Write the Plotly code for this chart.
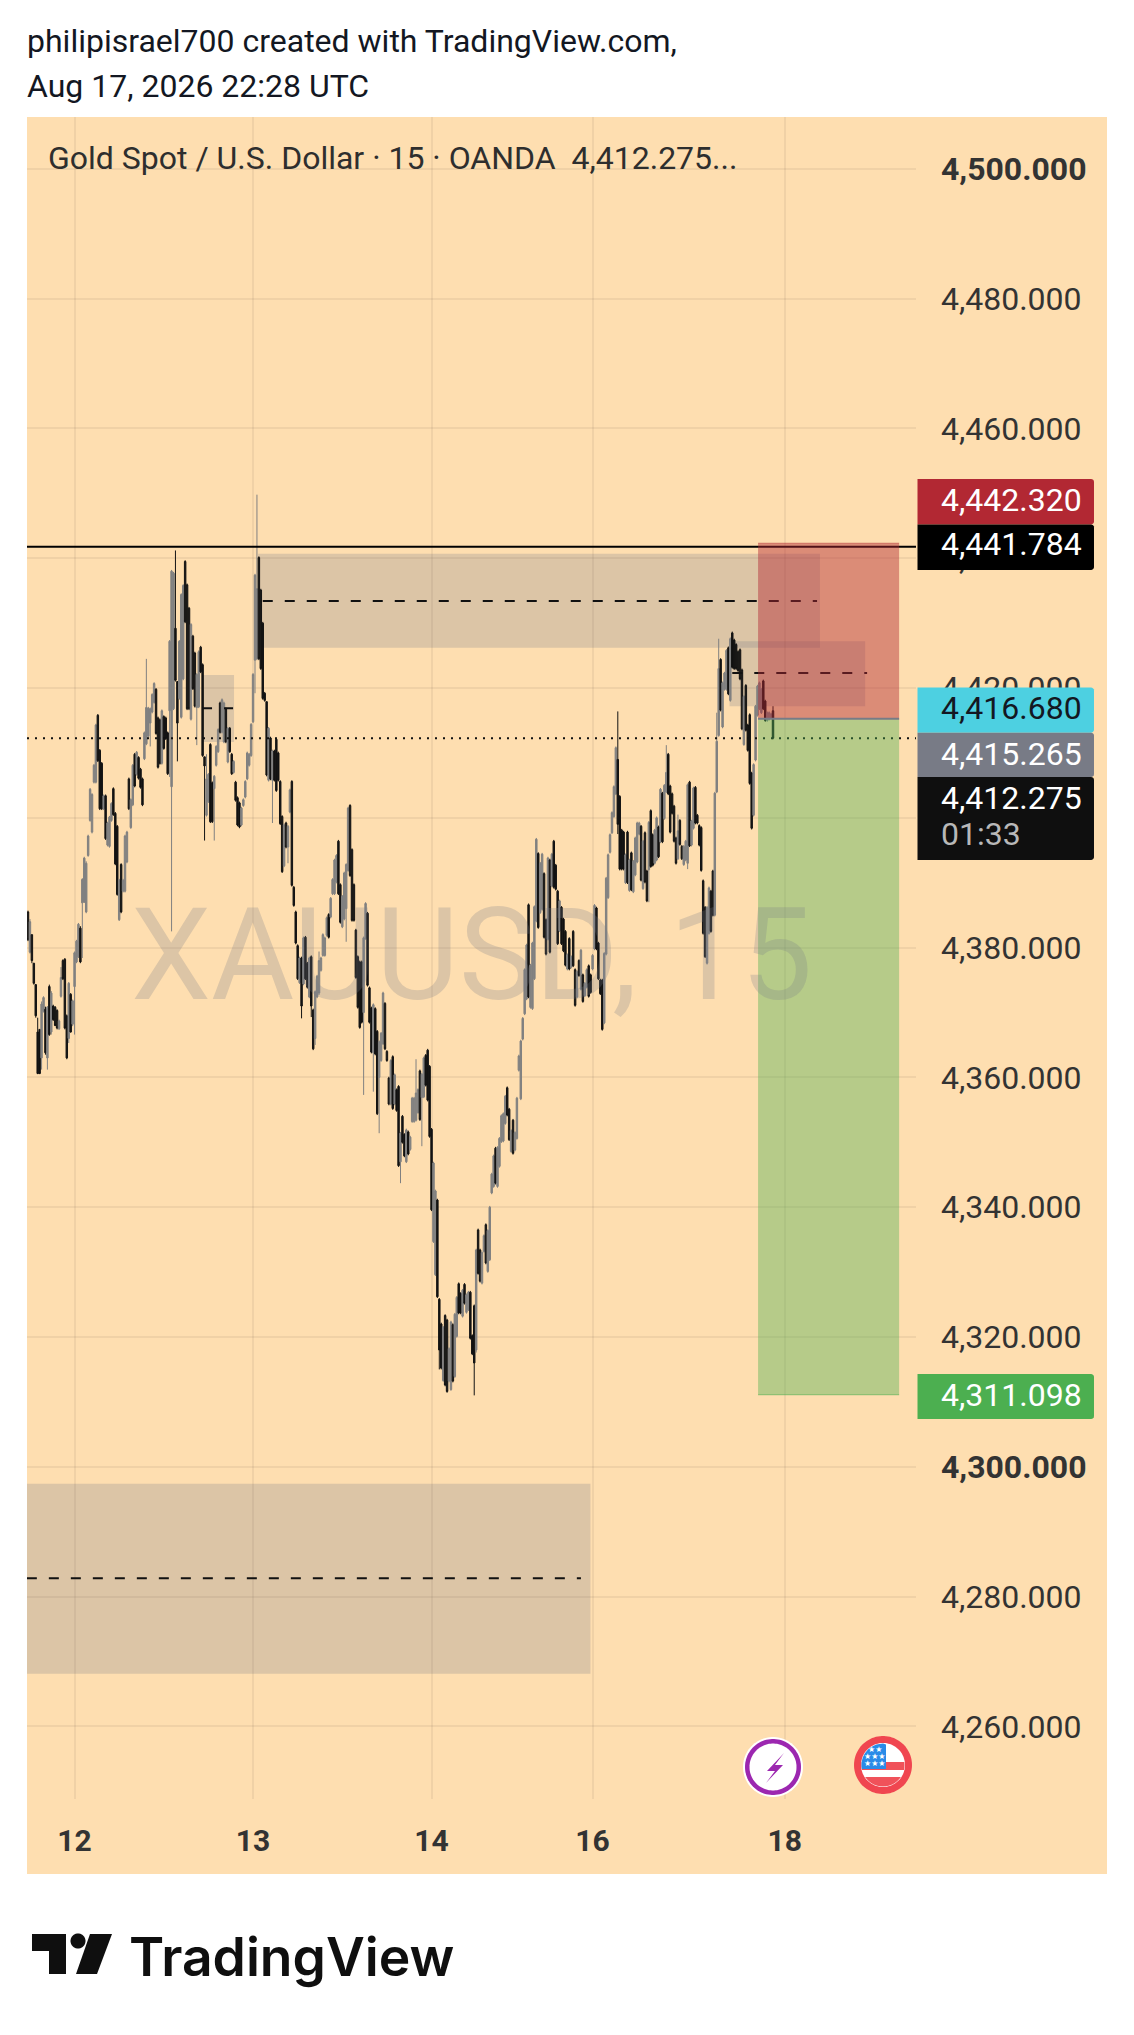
import math
import plotly.graph_objects as go

# ---- data ----
HIGH = [
4385.7,4384.4,4382,4377.6,4374.3,4369.2,4367.4,4371.7,4372.5,4370.9,
4371,4374.3,4373.3,4371.2,4371,4370.5,4368.9,4377,4378.2,4378.4,
4369.7,4374.7,4373,4372,4379.4,4381.2,4383.8,4383.3,4390.7,4394,
4393.3,4397.4,4404.6,4403.8,4408.3,4414.5,4416,4410.6,4408.6,4403.6,
4403.6,4399.4,4400.3,4402.4,4404.7,4400.9,4398.9,4390.6,4393,4390.6,
4397.4,4398,4406.2,4403,4408.3,4410,4410.3,4409.5,4407.7,4406.2,
4413.3,4424.5,4417.1,4417,4419.2,4420.9,4420,4415.6,4415.3,4416.7,
4415.8,4415.6,4413.3,4427.4,4438.2,4437.9,4441.2,4421,4427.4,4434.6,
4436,4439.7,4436.1,4432.5,4430,4428.2,4425.6,4422.3,4425.8,4426.5,
4423.8,4409.4,4409.8,4406.9,4411.5,4405.6,4406.6,4411.2,4413.8,4417.9,
4418.4,4417.9,4417,4414,4414,4410,4408.9,4405.7,4403.3,4402.5,
4401.7,4403,4405.8,4410.2,4410,4414.6,4422.3,4437.6,4449.8,4440.3,
4435.3,4430.2,4419.4,4417.9,4414,4412.5,4410.5,4410.5,4412.3,4410.2,
4405.8,4400.4,4399.1,4399.4,4398.9,4404.5,4405.8,4389.5,4385.7,4380.5,
4378.6,4378.6,4381.7,4381.8,4377.8,4378.6,4378.8,4370.6,4373.4,4375.8,
4379.4,4378.6,4382.2,4381.7,4384.8,4385.3,4387.8,4390.7,4393.7,4394.4,
4396.6,4389.9,4388.1,4391.7,4393,4401.7,4402.1,4395.3,4389.9,4382.9,
4378.8,4378,4378,4381.7,4387,4385.5,4374,4370.9,4371.4,4370.8,
4367.3,4365.7,4367,4373.2,4371.6,4364.2,4360.1,4362.8,4363.4,4360.6,
4358.3,4358.8,4351.6,4354.2,4351.4,4352.1,4351.8,4351,4357,4357,
4362.8,4358.3,4361.2,4360.7,4363.2,4363.6,4364.4,4361.9,4352.2,4347,
4342.7,4341.3,4326,4322.2,4321.7,4323.5,4322.8,4318.4,4322.5,4322.1,
4323.7,4326.3,4328.4,4326.9,4327.4,4328.3,4326.7,4327.1,4327.1,4320.4,
4325,4333.6,4336.7,4333.6,4333.2,4335.8,4337.5,4336.6,4340.2,4345.3,
4348.1,4349.3,4349.4,4350.8,4354.3,4354.6,4357.3,4358.6,4355.3,4352,
4353.6,4351.7,4357,4363.5,4365.8,4369.3,4376.8,4380.6,4386.8,4377.5,
4380.9,4386.5,4396.9,4394.7,4393.2,4394.6,4391.6,4384.5,4394,4393.7,
4394.6,4396.6,4392.9,4388.9,4387.4,4386.4,4384.6,4382.7,4379.1,4381.6,
4378.8,4382.7,4376.8,4376.5,4378.2,4379.8,4376,4374.7,4376.8,4377.4,
4376,4379,4386.7,4386.3,4380.9,4375.2,4375.2,4379.3,4390.9,4394.5,
4397.6,4401,4405,4411,4416.4,4403.5,4398.3,4398,4394.5,4398,
4393.7,4394.8,4393.5,4397.1,4399.4,4399.4,4398.9,4396.6,4397.9,4392,
4399.5,4401.3,4397.6,4398.3,4400.2,4398.8,4404.6,4404,4405.2,4411.2,
4410,4405.1,4403.9,4402,4397.1,4400.5,4399.8,4395.8,4395.8,4396.6,
4405.3,4405.7,4399.7,4404.8,4404.9,4400.6,4399,4398.7,4390.5,4386.4,
4386.4,4389.4,4388.9,4392,4404,4416.2,4427.6,4424.6,4421,4422.5,
4426,4426.4,4427.8,4428.7,4427.6,4426.9,4425.8,4426.1,4423,4418.9,
4420.6,4414.5,4416.1,4407.1,4408.4,4417.4,4420.5,4421,4420,4421.3,
4418.2,4416.4,4416.4,4416.2,4417.2,
]
LOW = [
4381,4379.1,4377.6,4374.3,4369.2,4360.5,4360.5,4361.2,4370,4363.5,
4361.2,4366.4,4366.6,4368.7,4367.9,4367.4,4367.3,4372.3,4375,4367.4,
4362.8,4365.3,4366.9,4367.9,4366.6,4377.6,4378.4,4377.6,4378.4,4386.9,
4385.3,4394,4399.4,4397.6,4405.3,4405.3,4408.6,4401.2,4401.2,4401.2,
4396.6,4395.6,4395.4,4399.4,4400.3,4392.7,4388,4384.1,4385.3,4388.5,
4388.5,4393,4401.2,4398.3,4401.8,4404.7,4406.5,4405.9,4404.5,4401.8,
4408.9,4411.2,4412.4,4411,4416.1,4417.6,4412.8,4407.6,4408.2,4408.2,
4410.5,4412,4406.6,4406.3,4382.5,4416.6,4421,4408.7,4418.2,4415.3,
4421.2,4430,4416.6,4416.6,4415,4419.7,4417,4411.2,4416.9,4422.3,
4409.4,4396.5,4400.2,4402.3,4399.2,4399.2,4396.5,4407.9,4410,4413,
4413,4411.5,4411.5,4408.4,4410,4406.6,4406.8,4402.5,4398.7,4398.4,
4398.7,4401.7,4403,4405.8,4407.9,4409.4,4414.6,4419.2,4424.3,4424.3,
4422.8,4418.2,4417.9,4406.4,4405.6,4405.8,4399.2,4405.6,4404,4405.6,
4398.9,4391.5,4392.4,4395.3,4393,4400.7,4389.4,4386.3,4380.5,4375,
4374.4,4369.1,4374.2,4375,4373.7,4372.2,4369.3,4364.2,4365,4372.2,
4372.7,4376.3,4378.6,4378.6,4381.7,4381.4,4384.5,4388.1,4388.1,4389.9,
4388.1,4383.7,4383,4384.2,4380.9,4391.7,4390.9,4384,4384,4375.2,
4370.6,4367.5,4368.3,4357.3,4381.2,4374,4368.3,4363.7,4357.8,4363.4,
4354.2,4351.4,4362.4,4365,4364.2,4362.4,4355.7,4355.7,4355,4355.7,
4354.7,4346.2,4343.7,4349.8,4347.7,4346.8,4348,4348.7,4353,4353,
4353.2,4354.4,4353.3,4349.4,4356.8,4358.6,4356.3,4350.7,4339.4,4334.5,
4329.4,4326,4315,4315,4313.1,4312.4,4311.4,4313,4311.7,4313,
4313.7,4319.9,4323.5,4323.5,4323,4325,4323.6,4324,4319.6,4317.2,
4311,4317.6,4329.6,4328.4,4328.1,4333,4331.2,4329.9,4331.7,4342,
4343,4343.5,4343,4346.1,4349.9,4350,4352.7,4354,4350.2,4348.4,
4348.1,4348.6,4350.4,4360.9,4356.5,4365.7,4369.6,4371.9,4372.2,4370.6,
4370.4,4375,4383.9,4382.9,4385.2,4385.7,4381.4,4378.8,4381.1,4379.1,
4389.3,4389.1,4388.8,4380.4,4382.4,4380.4,4379.3,4377.1,4376.5,4376.5,
4376.8,4377,4370.9,4372.2,4375.5,4373.4,4371.5,4372.4,4373.7,4372.3,
4372.9,4376.5,4379.6,4379.6,4375,4372.7,4367.2,4368.2,4378.8,4387.5,
4394.5,4397.5,4400,4403.5,4397.5,4391.9,4391.9,4391.9,4389.8,4389.8,
4388.6,4388.7,4388.4,4391,4393,4397.3,4390.2,4388.9,4389.9,4387,
4387,4392.3,4392.5,4392.8,4393.3,4393.8,4396.1,4396.1,4399.7,4403.8,
4403.5,4397.6,4400.5,4396.2,4392.8,4393.5,4395.7,4393.5,4392.6,4393.3,
4392.1,4395.5,4395.6,4398.2,4399,4399,4395.6,4391.7,4382,4378.4,
4377.4,4382,4382.3,4384.8,4384.8,4403.8,4412.5,4416.4,4413.8,4419.6,
4419.6,4418.9,4417.9,4423,4422.8,4422.8,4422.5,4421.2,4413.5,4411.1,
4413.3,4410.2,4405.1,4398.2,4400.2,4408.7,4415.6,4416.6,4416,4416.6,
4414.8,4414.8,4415,4415.2,4412.1,
]
OPEN = [
4385.5,4379.3,4382,4377.6,4374.3,4367,4367.4,4363,4370.2,4370.5,
4363,4374,4367,4371,4370.8,4370.3,4367.5,4372.5,4378,4378.2,
4369.5,4366,4372.8,4368.2,4374,4377.8,4378.6,4383,4386.9,4387,
4385.5,4394.2,4399.6,4397.8,4405.5,4405.5,4415.8,4410.4,4408.4,4401.4,
4403.4,4395.8,4395.6,4399.6,4404.5,4400.7,4398.7,4384.3,4392.8,4388.7,
4388.7,4393.2,4406,4398.5,4402,4409.8,4406.7,4409.3,4407.5,4406,
4409.1,4411.4,4412.6,4414.6,4416.3,4417.8,4419.8,4415.4,4415.1,4408.4,
4415.6,4415.4,4413.1,4416.5,4404.8,4416.8,4429.2,4421,4418.4,4415.5,
4421.4,4439.5,4435.9,4432.3,4415.2,4428,4425.4,4417,4417.1,4426.3,
4423.6,4409.4,4400.4,4402.5,4411.3,4405.4,4404.5,4408.1,4410.2,4417.7,
4413.2,4411.7,4416.8,4408.6,4413.8,4409.8,4407,4405.5,4403.1,4402.3,
4398.9,4401.9,4403.2,4406,4408.1,4409.6,4414.8,4424.3,4424.5,4440.1,
4435.1,4430,4419.2,4417.9,4405.8,4412.3,4405.8,4410.3,4412.1,4410,
4405.6,4400.2,4392.6,4399.2,4395.5,4400.9,4405.6,4389.3,4385.5,4380.3,
4374.6,4378.4,4374.4,4381.6,4377.6,4372.4,4378.6,4370.4,4366,4372.4,
4373,4376.5,4378.8,4378.8,4381.9,4385.1,4384.7,4388.3,4388.3,4390.1,
4396.4,4389.7,4383.2,4384.4,4386,4391.9,4401.9,4395.1,4389.7,4382.7,
4378.6,4377.8,4377.8,4370,4381.4,4385.3,4373.8,4370.7,4363.8,4370.6,
4367.1,4360,4362.6,4365.2,4371.4,4364,4359.9,4355.9,4363.2,4355.9,
4358.1,4358.6,4347,4354,4351.2,4347,4351.6,4348.9,4353.2,4353.2,
4353.4,4354.6,4361,4356.9,4357,4363.4,4364.2,4361.7,4352,4334.7,
4329.6,4341.1,4325.8,4322,4313.3,4323.3,4322.6,4313.2,4311.9,4321.9,
4313.9,4320.1,4328.2,4326.7,4323.2,4328.1,4323.8,4324.2,4326.9,4320.2,
4324.8,4318,4336.5,4333.4,4328.3,4333.2,4337.3,4330.1,4331.9,4342.2,
4343.2,4349.1,4343.2,4346.3,4350.1,4350.2,4352.9,4358.4,4355.1,4348.6,
4353.4,4348.8,4350.6,4361.1,4356.7,4365.9,4369.8,4372.1,4386.6,4370.8,
4370.6,4375.2,4384.1,4394.5,4385.4,4385.9,4391.4,4384.3,4381.3,4393.5,
4389.5,4396.4,4392.7,4388.7,4382.6,4386.2,4384.4,4382.5,4376.7,4381.4,
4377,4382.5,4376.6,4372.4,4378,4373.6,4375.8,4372.6,4373.9,4377.2,
4375.8,4376.7,4379.8,4386.1,4380.7,4375,4375,4368.4,4379,4387.7,
4394.7,4397.7,4400.2,4403.7,4409,4403.3,4398.1,4397.8,4390,4397.8,
4388.8,4394.6,4388.6,4391.2,4393.2,4397.5,4398.7,4389.1,4397.7,4391.8,
4392,4401.1,4397.4,4393,4393.5,4398.6,4396.3,4403.8,4399.9,4404,
4409.8,4404.9,4403.7,4401.8,4396.9,4393.7,4399.6,4395.6,4392.8,4393.5,
4393,4405.5,4395.8,4398.4,4404.7,4400.4,4398.8,4398.5,4390.3,4386.2,
4377.6,4382.2,4388.7,4391.8,4385,4404,4412.7,4424.4,4414,4419.8,
4419.8,4426.2,4418.1,4428.5,4427.4,4426.7,4425.6,4425.9,4422.8,4411.3,
4420.4,4414.3,4415.9,4406.9,4400.4,4408.9,4415.8,4416.8,4416.2,4421.1,
4418,4415,4415.2,4415.4,4416.5,
]
CLOSE = [
4381.2,4384,4378,4374.5,4369.5,4360.6,4360.6,4371.3,4372.3,4363.8,
4370.8,4366.6,4373,4368.9,4368,4367.6,4368.7,4375.4,4375.2,4367.6,
4363,4374.5,4367,4371.8,4379.2,4381,4383.6,4377.8,4390.5,4393.8,
4393,4397.2,4404.4,4403.6,4408.1,4414.3,4408.8,4401.4,4401.4,4403.4,
4396.8,4399.2,4400.1,4402.2,4400.5,4392.9,4388.2,4390.4,4385.5,4390.4,
4397.2,4397.8,4401.4,4402.8,4408.1,4404.9,4410.1,4406.1,4404.7,4402,
4413.1,4417,4416.9,4416.8,4419,4420.7,4413,4407.8,4408.4,4416.5,
4410.7,4412.2,4406.8,4427.2,4438,4437.7,4421.2,4414.6,4427.2,4434.4,
4435.8,4430.2,4416.8,4416.8,4429.8,4419.9,4417.2,4422.1,4425.6,4422.5,
4409.6,4408,4406,4406.7,4399.4,4399.4,4406.4,4411,4413.6,4413.2,
4418.2,4417.7,4411.7,4413.8,4410.2,4406.8,4408.7,4402.7,4398.9,4398.6,
4401.5,4402.8,4405.6,4410,4409.8,4414.4,4422.1,4437.4,4435.3,4424.5,
4423,4418.4,4418.1,4406.6,4413.8,4406,4410.3,4405.8,4404.2,4405.8,
4399.1,4391.7,4398.9,4395.5,4398.7,4404.3,4389.6,4386.5,4380.7,4375.2,
4378.4,4371,4381.5,4375.2,4373.9,4378.4,4371,4364.4,4373.2,4375.6,
4378,4378.4,4382,4381.5,4384.6,4381.6,4387.6,4390.5,4393.5,4394.2,
4388.3,4383.9,4387.9,4391.5,4392.8,4401.5,4391.1,4384.2,4384.2,4375.4,
4370.8,4367.7,4368.5,4381.5,4386.8,4374.2,4368.5,4363.9,4371.2,4363.6,
4354.4,4365.5,4366.8,4373,4364.4,4362.6,4355.9,4362.6,4355.2,4360.4,
4354.9,4346.4,4351.4,4350,4347.9,4351.9,4348.2,4350.8,4356.8,4356.8,
4357.6,4358.1,4353.5,4360.5,4363,4358.8,4356.5,4350.9,4339.6,4346.8,
4342.5,4326.2,4318,4315.2,4321.5,4312.6,4311.6,4318.2,4322.3,4313.2,
4323.5,4326.1,4323.7,4323.7,4327.2,4325.2,4326.5,4326.9,4319.8,4317.4,
4316,4333.4,4329.8,4328.6,4333,4335.6,4331.4,4336.4,4340,4345.1,
4347.9,4343.7,4349.2,4350.6,4354.1,4354.4,4357.1,4354.2,4350.4,4351.8,
4348.3,4351.5,4356.8,4363.3,4365.6,4369.1,4376.6,4380.4,4372.4,4377.3,
4380.7,4386.3,4396.7,4383.1,4393,4394.4,4381.6,4379,4393.8,4379.3,
4394.4,4389.3,4389,4380.6,4387.2,4380.6,4379.5,4377.3,4378.9,4376.7,
4378.6,4377.2,4371.1,4376.3,4375.7,4379.6,4371.7,4374.5,4376.6,4372.5,
4373.1,4378.8,4386.5,4379.8,4375.2,4372.9,4367.4,4379.1,4390.7,4394.3,
4397.4,4400.8,4404.8,4410.8,4399,4392.1,4392.1,4392.1,4394.3,4390,
4393.5,4388.9,4393.3,4396.9,4399.2,4399.2,4390.4,4396.4,4390.1,4387.2,
4399.3,4392.5,4392.7,4398.1,4400,4394,4404.4,4396.3,4405,4407,
4403.7,4397.8,4400.7,4396.4,4393,4398,4395.9,4393.7,4395.6,4396.4,
4405.1,4395.7,4399.5,4404.6,4399.2,4399.2,4395.8,4391.9,4382.2,4378.6,
4386.2,4389.2,4382.5,4385,4403.8,4411.8,4423,4416.6,4420.8,4422.3,
4425.8,4419.1,4427.6,4423.2,4423,4423,4422.7,4421.4,4413.7,4418.7,
4413.5,4410.4,4405.3,4398.4,4408.2,4417.2,4420.3,4420.8,4419.8,4416.8,
4415,4416.2,4416.2,4416,4412.275,
]
assert len(HIGH) == len(LOW) == len(OPEN) == len(CLOSE)
BARS = list(range(len(HIGH)))

PRICE_TICKS = [4500, 4480, 4460, 4440, 4420, 4400, 4380, 4360, 4340, 4320, 4300, 4280, 4260]
BOLD_TICKS = [4500, 4300]
DAY_TICKS = [24, 116, 208, 291, 390]
DAY_LABELS = ["12", "13", "14", "16", "18"]

RESISTANCE = 4441.784
LAST_PRICE = 4412.275
STOP, ENTRY, TARGET = 4442.32, 4415.265, 4311.098
POSITION_SPAN = (376.3, 449)
# zones: first bar, last bar, top, bottom, mid price, mid start, mid end
ZONE_A = (118.6, 408.2, 4440.7, 4426.2, 4433.4, 121, 406.7)
ZONE_B = (90.2, 106.2, 4422, 4411.7, 4416.9, 89.7, 105.7)
ZONE_C = (361.6, 431.5, 4427.2, 4417.2, 4422.3, 363, 432.5)
ZONE_D = (-0.6, 289.9, 4297.4, 4268.1, 4282.8, -0.6, 285)

# ---- page geometry ----
W, H = 1134, 2035
L, R, T, B = 27, 916, 117, 1799
X_RANGE = [-0.515, 457.7]
Y_RANGE = [4248.8, 4508.0]

def fx(px):
    return (px - L) / (R - L)

def fy(py):
    return (B - py) / (B - T)

def poly(points):
    return "M " + " L ".join(f"{fx(a):.5f},{fy(b):.5f}" for a, b in points) + " Z"

def rbox(x0, y0, x1, y1, r=3):
    pts = []
    for cx, cy, a0 in [(x1 - r, y0 + r, -90), (x1 - r, y1 - r, 0)]:
        for k in range(5):
            a = math.radians(a0 + k * 22.5)
            pts.append((cx + r * math.cos(a), cy + r * math.sin(a)))
    return poly([(x0, y0)] + pts + [(x0, y1)])

def disk(cx, cy, r, n=90):
    pts = []
    for k in range(n):
        a = 2 * math.pi * k / n
        pts.append((cx + r * math.cos(a), cy + r * math.sin(a)))
    return poly(pts)

def clipped_disk(cx, cy, r, x0, x1, y0, y1):
    steps = 24
    yy0, yy1 = max(y0, cy - r), min(y1, cy + r)
    left, right = [], []
    for k in range(steps + 1):
        y = yy0 + (yy1 - yy0) * k / steps
        half = math.sqrt(max(r * r - (y - cy) ** 2, 0))
        left.append((max(cx - half, x0), y))
        right.append((min(cx + half, x1), y))
    return poly(left + right[::-1])

GREY = "#808080"
BLACK = "#131313"
PEACH = "#FEDEB0"
TAN = "rgba(120,123,134,0.25)"

fig = go.Figure(go.Candlestick(
    x=BARS, open=OPEN, high=HIGH, low=LOW, close=CLOSE,
    increasing=dict(line=dict(color=GREY, width=1), fillcolor=GREY),
    decreasing=dict(line=dict(color=BLACK, width=1), fillcolor=BLACK),
    whiskerwidth=0, hoverinfo="skip", showlegend=False,
))

shapes = []
shapes.append(dict(type="rect", xref="paper", yref="paper", x0=0, x1=fx(1107), y0=fy(1874), y1=1,
                   fillcolor=PEACH, line_width=0, layer="below"))
for z in (ZONE_A, ZONE_B, ZONE_C, ZONE_D):
    shapes.append(dict(type="rect", xref="x", yref="y", x0=z[0], x1=z[1], y0=z[3], y1=z[2],
                       fillcolor=TAN, line_width=0, layer="below"))
    shapes.append(dict(type="line", xref="x", yref="y", x0=z[5], x1=z[6], y0=z[4], y1=z[4],
                       line=dict(color="#111111", width=2, dash="10px,12px"), layer="above"))
shapes.append(dict(type="line", xref="paper", yref="y", x0=0, x1=1, y0=RESISTANCE, y1=RESISTANCE,
                   line=dict(color="#000000", width=2), layer="above"))
shapes.append(dict(type="line", xref="paper", yref="y", x0=0, x1=1, y0=LAST_PRICE, y1=LAST_PRICE,
                   line=dict(color="#111111", width=2, dash="2px,6px"), layer="above"))
shapes.append(dict(type="rect", xref="x", yref="y", x0=POSITION_SPAN[0], x1=POSITION_SPAN[1], y0=ENTRY, y1=STOP,
                   fillcolor="rgba(178,40,51,0.45)", line_width=0, layer="above"))
shapes.append(dict(type="rect", xref="x", yref="y", x0=POSITION_SPAN[0], x1=POSITION_SPAN[1], y0=TARGET, y1=ENTRY,
                   fillcolor="rgba(76,175,80,0.4)", line_width=0, layer="above"))
shapes.append(dict(type="line", xref="x", yref="y", x0=POSITION_SPAN[0], x1=POSITION_SPAN[1], y0=ENTRY, y1=ENTRY,
                   line=dict(color="#787B86", width=2), layer="above"))
shapes.append(dict(type="line", xref="x", yref="y", x0=POSITION_SPAN[0], x1=POSITION_SPAN[1], y0=STOP, y1=STOP,
                   line=dict(color="rgba(178,40,51,0.45)", width=1), layer="above"))
shapes.append(dict(type="line", xref="x", yref="y", x0=POSITION_SPAN[0], x1=POSITION_SPAN[1], y0=TARGET, y1=TARGET,
                   line=dict(color="rgba(76,175,80,0.6)", width=1), layer="above"))

def paper_path(path, color):
    shapes.append(dict(type="path", xref="paper", yref="paper", path=path,
                       fillcolor=color, line_width=0, layer="above"))

BOXES = [
    (479, 524.5, "#B22833", "4,442.320", "#FFFFFF", 500),
    (524.5, 570, "#000000", "4,441.784", "#FFFFFF", 544),
    (687.5, 732.7, "#4DD0E1", "4,416.680", "#131722", 708),
    (732.7, 777, "#787B86", "4,415.265", "#FFFFFF", 754),
    (777, 860, "#0F0F0F", "4,412.275", "#FFFFFF", 798),
    (1374, 1419, "#4CAF50", "4,311.098", "#FFFFFF", 1395),
]
annotations = []

def text(x, y, s, size, color="#131722", weight=None, anchor="left", family="Roboto"):
    annotations.append(dict(xref="paper", yref="paper", x=fx(x), y=fy(y), text=s, showarrow=False,
                            xanchor=anchor, yanchor="middle",
                            font=dict(family=family, size=size, color=color, weight=weight)))

for top, bot, col, label, fg, cy in BOXES:
    paper_path(rbox(917.5, top, 1094, bot), col)
    text(939, cy, label, 32, fg)
text(939, 834, "01:33", 32, "#B8B8B8")

# icons
paper_path(disk(773, 1767, 30), "#FFFFFF")
paper_path(disk(773, 1767, 28), "#9C27B0")
paper_path(disk(773, 1767, 23.5), "#FFFFFF")
paper_path(poly([(784, 1753), (767, 1771), (775, 1771), (766, 1783), (783, 1765), (775, 1765)]), "#9C27B0")
paper_path(disk(883, 1765, 29), "#F04650")
paper_path(disk(883, 1765, 22), "#FFFFFF")
paper_path(clipped_disk(883, 1765, 21.5, 860, 906, 1762, 1770), "#F0525A")
paper_path(clipped_disk(883, 1765, 21.5, 860, 906, 1777, 1788), "#F0525A")
paper_path(clipped_disk(883, 1765, 21.5, 860, 886, 1743, 1769), "#2A8BE8")
for y_, s_ in ((1749, "★★"), (1756, "★★★"), (1763, "★★★")):
    text(875, y_, s_, 8, "#FFFFFF", anchor="center", family="DejaVu Sans")

# TradingView logo
paper_path(poly([(32, 1934), (66, 1934), (66, 1974), (49, 1974), (49, 1951), (32, 1951)]), "#0F0F0F")
paper_path(disk(78, 1941, 7.5), "#0F0F0F")
paper_path(poly([(90, 1934), (112, 1934), (97, 1974), (76, 1974)]), "#0F0F0F")
text(127, 1956, "TradingView", 53.4, "#0F0F0F", weight=600, family="Inter")

# header and legend text
text(25, 41, "philipisrael700 created with TradingView.com,", 32, "#131722")
text(25, 86, "Aug 17, 2026 22:28 UTC", 32, "#131722")
text(45.5, 158, "Gold Spot / U.S. Dollar · 15 · OANDA &nbsp;4,412.275...", 32, "#2E2E2E")
# watermark
annotations.append(dict(xref="paper", yref="paper", x=fx(471), y=fy(955), text="XAUUSD, 15", showarrow=False,
                        xanchor="center", yanchor="middle",
                        font=dict(family="Roboto", size=127.7, color="rgba(120,123,134,0.25)")))

price_text = [(f"<b>{p:,.3f}</b>" if p in BOLD_TICKS else f"{p:,.3f}") for p in PRICE_TICKS]

fig.update_layout(
    width=W, height=H, autosize=False,
    margin=dict(l=L, r=W - R, t=T, b=H - B, pad=0, autoexpand=False),
    paper_bgcolor="#FFFFFF", plot_bgcolor="rgba(0,0,0,0)",
    boxgap=0.25, boxgroupgap=0, showlegend=False,
    shapes=shapes, annotations=annotations,
    font=dict(family="Roboto", color="#333333"),
    xaxis=dict(range=X_RANGE, rangeslider=dict(visible=False), tickmode="array",
               tickvals=DAY_TICKS, ticktext=[f"<b>{s}</b>" for s in DAY_LABELS],
               showgrid=True, gridcolor="rgba(120,100,80,0.10)", gridwidth=1.5, zeroline=False,
               ticks="outside", ticklen=15, tickcolor="rgba(0,0,0,0)",
               tickfont=dict(family="Roboto", size=30, color="#333333"), fixedrange=True),
    yaxis=dict(range=Y_RANGE, side="right", tickmode="array", tickvals=PRICE_TICKS, ticktext=price_text,
               showgrid=True, gridcolor="rgba(120,100,80,0.10)", gridwidth=1.5, zeroline=False,
               ticks="outside", ticklen=17.5, tickcolor="rgba(0,0,0,0)",
               tickfont=dict(family="Roboto", size=32, color="#333333"), fixedrange=True),
)

fig.write_html("out.html", config={"displayModeBar": False},
               post_script="document.body.style.margin='0';document.documentElement.style.overflow='hidden';")
